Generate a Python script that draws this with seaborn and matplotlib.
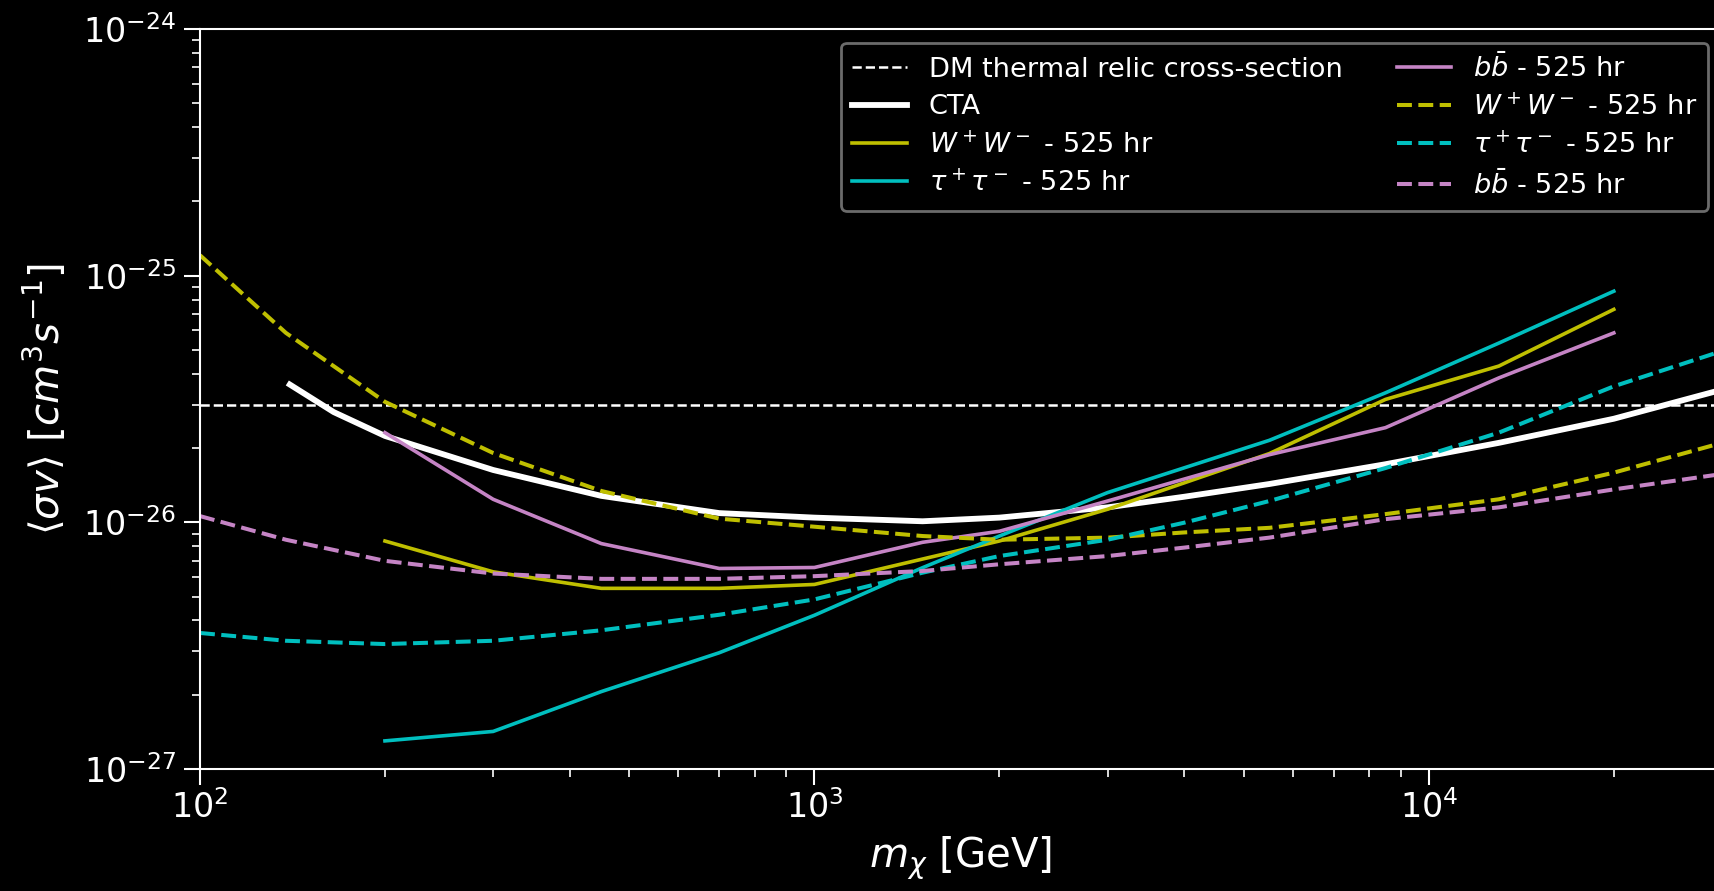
import matplotlib
matplotlib.use("Agg")
import matplotlib.pyplot as plt
import seaborn as sns
import pandas as pd

# masses [GeV]
mass_cta = [140, 165, 200, 300, 450, 700, 1000, 1500, 2000, 3000, 4000, 5500, 8500, 13000, 20000, 30000]
mass_solid = [200, 300, 450, 700, 1000, 1500, 2000, 3000, 5500, 8500, 13000, 20000]
mass_dashed = [100, 138, 200, 300, 450, 700, 1000, 1500, 2000, 3000, 4000, 5500, 8500, 13000, 20000, 30000]

# <sigma v> limits [cm^3 s^-1]
cta = [3.62e-26, 2.80e-26, 2.24e-26, 1.63e-26, 1.28e-26, 1.09e-26, 1.045e-26, 1.01e-26, 1.045e-26,
       1.15e-26, 1.27e-26, 1.43e-26, 1.72e-26, 2.10e-26, 2.63e-26, 3.45e-26]
ww_525 = [8.4e-27, 6.3e-27, 5.4e-27, 5.4e-27, 5.6e-27, 7.1e-27, 8.4e-27, 1.13e-26, 1.9e-26, 3.15e-26, 4.3e-26, 7.3e-26]
tautau_525 = [1.30e-27, 1.42e-27, 2.06e-27, 2.96e-27, 4.2e-27, 6.55e-27, 8.8e-27, 1.32e-26, 2.15e-26, 3.35e-26, 5.33e-26, 8.65e-26]
bb_525 = [2.31e-26, 1.24e-26, 8.2e-27, 6.5e-27, 6.56e-27, 8.3e-27, 9.2e-27, 1.22e-26, 1.88e-26, 2.42e-26, 3.85e-26, 5.86e-26]
ww_525_dash = [1.21e-25, 5.86e-26, 3.08e-26, 1.91e-26, 1.34e-26, 1.035e-26, 9.6e-27, 8.8e-27, 8.5e-27,
               8.67e-27, 9.1e-27, 9.5e-27, 1.08e-26, 1.24e-26, 1.59e-26, 2.1e-26]
tautau_525_dash = [3.56e-27, 3.31e-27, 3.21e-27, 3.31e-27, 3.65e-27, 4.22e-27, 4.87e-27, 6.25e-27, 7.3e-27,
                   8.5e-27, 9.97e-27, 1.22e-26, 1.66e-26, 2.31e-26, 3.56e-26, 4.95e-26]
bb_525_dash = [1.06e-26, 8.5e-27, 6.98e-27, 6.2e-27, 5.9e-27, 5.9e-27, 6.05e-27, 6.35e-27, 6.76e-27,
               7.3e-27, 7.9e-27, 8.67e-27, 1.03e-26, 1.15e-26, 1.36e-26, 1.57e-26]
thermal_relic = 3.0e-26

yellow = "#bfbf00"
cyan = "#00bfbf"
pink = "#c584c5"

plt.style.use("dark_background")
plt.rcParams["font.family"] = ["DejaVu Sans"]
plt.rcParams["mathtext.fontset"] = "dejavusans"

fig = plt.figure(figsize=(17.14, 8.91), dpi=100)
ax = fig.add_axes([200 / 1714, 122 / 891, 1522 / 1714, 740 / 891])

ax.axhline(thermal_relic, color="white", ls="--", lw=1.8, label="DM thermal relic cross-section")

sns.lineplot(x=mass_cta, y=cta, ax=ax, color="white", lw=4.2, label="CTA")
sns.lineplot(x=mass_solid, y=ww_525, ax=ax, color=yellow, lw=2.6, label=r"$W^+W^-$ - 525 hr")
sns.lineplot(x=mass_solid, y=tautau_525, ax=ax, color=cyan, lw=2.6, label=r"$\tau^+\tau^-$ - 525 hr")
sns.lineplot(x=mass_solid, y=bb_525, ax=ax, color=pink, lw=2.6, label=r"$b\bar{b}$ - 525 hr")
sns.lineplot(x=mass_dashed, y=ww_525_dash, ax=ax, color=yellow, lw=2.9, ls="--", label=r"$W^+W^-$ - 525 hr")
sns.lineplot(x=mass_dashed, y=tautau_525_dash, ax=ax, color=cyan, lw=2.9, ls="--", label=r"$\tau^+\tau^-$ - 525 hr")
sns.lineplot(x=mass_dashed, y=bb_525_dash, ax=ax, color=pink, lw=2.9, ls="--", label=r"$b\bar{b}$ - 525 hr")

ax.set_xscale("log")
ax.set_yscale("log")
ax.set_xlim(100, 3e4)
ax.set_ylim(1e-27, 1e-24)

ax.set_xlabel(r"$m_\chi$ [GeV]", fontsize=29, labelpad=7)
ax.set_ylabel(r"$\langle \sigma v \rangle$ [$cm^3 s^{-1}$]", fontsize=29, labelpad=10)
ax.tick_params(which="major", labelsize=24, length=11.5, width=1.5, color="white")
ax.tick_params(which="minor", length=5.5, width=1.2, color="white")
ax.tick_params(axis="y", which="major", pad=6)
for side in ["left", "bottom", "top", "right"]:
    ax.spines[side].set_linewidth(1.5)

leg = ax.legend(loc="upper right", ncol=2, fontsize=19.6, framealpha=1, edgecolor="0.42",
                facecolor="black", columnspacing=2.0, labelspacing=0.42)
leg.get_frame().set_linewidth(2)

fig.savefig("out.png", dpi=100, facecolor="black")
